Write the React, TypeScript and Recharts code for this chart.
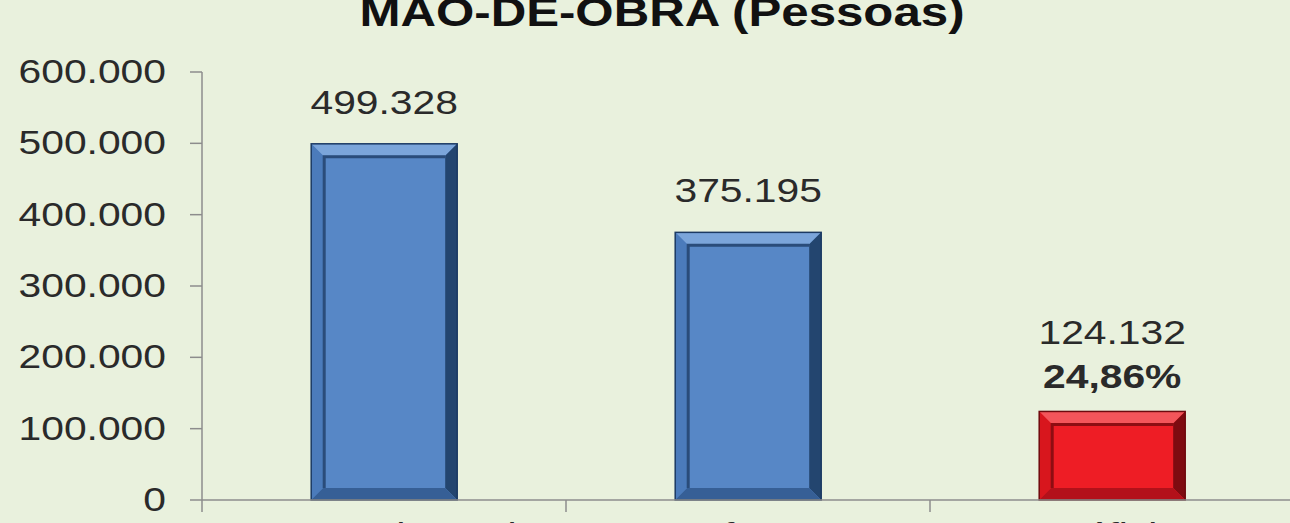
import React from "react";
import { BarChart, Bar, XAxis, YAxis, LabelList } from "recharts";

const categories = ["Demanda total", "Oferta", "Déficit"];
const pessoas = [499328, 375195, 124132];
const percentuais = ["", "", "24,86%"];
const yTicks = [0, 100000, 200000, 300000, 400000, 500000, 600000];

const data = categories.map((c, i) => ({
  categoria: c,
  pessoas: pessoas[i],
  pct: percentuais[i],
}));

const FONT = "'Liberation Sans', Arial, sans-serif";
const STRETCH = 1.2;
const BAND = 364;
const BG = "#e9f1dd";

// face, top, left, right, bottom, inner line, outline
const BLUE = ["#5787c6", "#7ba5da", "#4b7bbb", "#23456f", "#365f96", "#2a4c7a", "#1c3a63"];
const RED = ["#ee1d25", "#f4555a", "#d8161d", "#7e0b10", "#b3111a", "#8e0d12", "#6e0a0e"];

const fmt = (v: number) => String(v).replace(/\B(?=(\d{3})+(?!\d))/g, ".");

function BevelBar(props: any) {
  const { x, y, width: w, height: h, index } = props;
  if (!h || h <= 0) return null;
  const p = index === categories.length - 1 ? RED : BLUE;
  const b = 12;
  return (
    <g>
      <rect x={x} y={y} width={w} height={h} fill={p[0]} />
      <polygon points={`${x},${y} ${x + w},${y} ${x + w - b},${y + b} ${x + b},${y + b}`} fill={p[1]} />
      <polygon points={`${x},${y} ${x + b},${y + b} ${x + b},${y + h - b} ${x},${y + h}`} fill={p[2]} />
      <polygon points={`${x + w},${y} ${x + w},${y + h} ${x + w - b},${y + h - b} ${x + w - b},${y + b}`} fill={p[3]} />
      <polygon points={`${x},${y + h} ${x + w},${y + h} ${x + w - b},${y + h - b} ${x + b},${y + h - b}`} fill={p[4]} />
      <polyline
        points={`${x + b + 1},${y + h - b} ${x + b + 1},${y + b + 1} ${x + w - b},${y + b + 1}`}
        fill="none"
        stroke={p[5]}
        strokeWidth={3}
      />
      <rect x={x} y={y} width={w} height={h} fill="none" stroke={p[6]} strokeWidth={1.5} />
    </g>
  );
}

function StretchText({ x, y, children, bold, anchor = "middle" }: any) {
  return (
    <text
      transform={`translate(${x},${y}) scale(${STRETCH},1)`}
      textAnchor={anchor}
      fontFamily={FONT}
      fontSize={34}
      fontWeight={bold ? "bold" : "normal"}
      fill="#2a2a2a"
    >
      {children}
    </text>
  );
}

function ValueLabel(props: any) {
  const { x, y, width, index } = props;
  const cx = x + width / 2;
  const pct = percentuais[index];
  if (pct) {
    return (
      <g>
        <StretchText x={cx} y={y - 67}>{fmt(pessoas[index])}</StretchText>
        <StretchText x={cx} y={y - 23} bold>{pct}</StretchText>
      </g>
    );
  }
  return <StretchText x={cx} y={y - 30}>{fmt(pessoas[index])}</StretchText>;
}

function YTick(props: any) {
  const { x, y, payload } = props;
  return (
    <text
      transform={`translate(${x},${y + 11}) scale(${STRETCH},1)`}
      textAnchor="end"
      fontFamily={FONT}
      fontSize={34}
      fill="#2a2a2a"
    >
      {fmt(payload.value)}
    </text>
  );
}

function XTick(props: any) {
  const { x, y, payload, index } = props;
  const last = index === categories.length - 1;
  return (
    <g>
      <line x1={x - BAND / 2} x2={x - BAND / 2} y1={y} y2={y + 12} stroke="#8c8c8c" strokeWidth={1.5} />
      {last && <line x1={x + BAND / 2} x2={x + BAND / 2} y1={y} y2={y + 12} stroke="#8c8c8c" strokeWidth={1.5} />}
      <StretchText x={x} y={y + 46}>{payload.value}</StretchText>
    </g>
  );
}

export default function App() {
  return (
    <div
      style={{
        position: "absolute",
        left: 0,
        top: 0,
        width: 1290,
        height: 523,
        overflow: "hidden",
        background: BG,
      }}
    >
      <BarChart
        width={1300}
        height={560}
        data={data}
        margin={{ top: 72, right: 6, left: 0, bottom: 0 }}
        barCategoryGap="30%"
      >
        <XAxis
          dataKey="categoria"
          axisLine={{ stroke: "#8c8c8c", strokeWidth: 1.5 }}
          tickLine={false}
          tickSize={0}
          tickMargin={0}
          height={60}
          tick={<XTick />}
          interval={0}
        />
        <YAxis
          domain={[0, 600000]}
          ticks={yTicks}
          width={202}
          axisLine={{ stroke: "#8c8c8c", strokeWidth: 1.5 }}
          tickLine={{ stroke: "#8c8c8c", strokeWidth: 1.5 }}
          tickSize={12}
          tickMargin={24}
          tick={<YTick />}
          interval={0}
        />
        <Bar dataKey="pessoas" shape={<BevelBar />} isAnimationActive={false}>
          <LabelList dataKey="pessoas" content={<ValueLabel />} />
        </Bar>
      </BarChart>
      <div
        style={{
          position: "absolute",
          left: 17,
          top: -12,
          width: 1290,
          textAlign: "center",
          fontFamily: FONT,
          fontWeight: "bold",
          fontSize: 41,
          lineHeight: "48px",
          color: "#111",
          transform: `scaleX(${STRETCH})`,
          whiteSpace: "nowrap",
        }}
      >
        MÃO-DE-OBRA (Pessoas)
      </div>
    </div>
  );
}
